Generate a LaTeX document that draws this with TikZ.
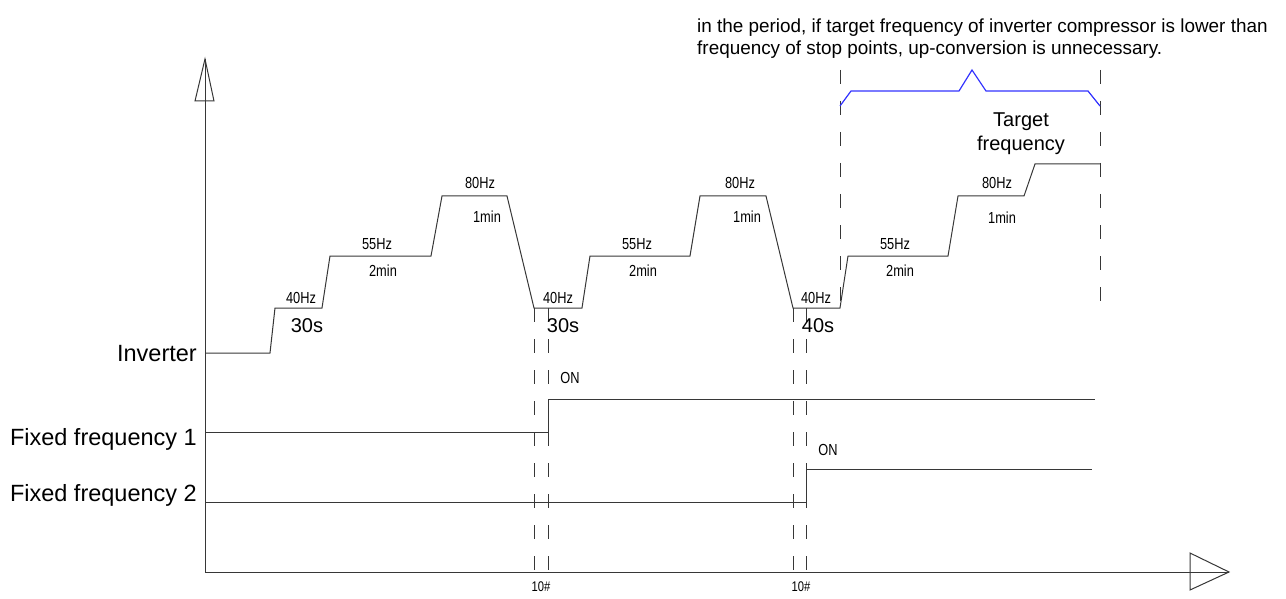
\documentclass[tikz,border=0pt]{standalone}
\usepackage{fontspec}
\setmainfont{Liberation Sans}
\newfontfamily\narrowfont[FakeStretch=0.8]{Liberation Sans}
\definecolor{bracketblue}{RGB}{50,50,255}
\definecolor{linegray}{RGB}{55,55,55}
\begin{document}
\begin{tikzpicture}[x=1pt,y=-1pt,
  wave/.style={line width=1pt, draw=linegray, line join=miter},
  guide/.style={line width=1pt, draw=linegray, dash pattern=on 14pt off 17pt},
  axis/.style={line width=1pt, draw=linegray},
  small/.style={font=\narrowfont\fontsize{16}{18}\selectfont, inner sep=0pt},
  tiny/.style={font=\narrowfont\fontsize{14}{16}\selectfont, inner sep=0pt},
  big/.style={font=\fontsize{23.5}{27}\selectfont, inner sep=0pt},
  dur/.style={font=\fontsize{20}{22}\selectfont, inner sep=0pt},
  note/.style={font=\fontsize{18.9}{22}\selectfont, inner sep=0pt},
  tgt/.style={font=\fontsize{20}{24}\selectfont, inner sep=0pt}]
\useasboundingbox (0,0) rectangle (1286,599);

% axes
\coordinate (O) at (205,572);
\coordinate (Ytip) at (205,59);
\coordinate (Xtip) at (1229,572);
\draw[axis] (O) -- (Ytip);
\draw[axis] (O) -- (Xtip);
\draw[axis] (Ytip) -- (195,101) -- (214,101) -- cycle;
\draw[axis] (Xtip) -- (1190,553) -- (1190,590) -- cycle;

% inverter waveform
\draw[wave] (205,353) -- (270,353) -- (275,308) -- (322,308) -- (330,256) -- (431,256)
  -- (442,196) -- (507,196) -- (534,308) -- (582,308) -- (590,256) -- (690,256)
  -- (700,196) -- (766,196) -- (793,308) -- (840,308) -- (848,256) -- (948,256)
  -- (958,196) -- (1024,196) -- (1035,164) -- (1100,164);

% fixed frequency 1 and 2
\draw[wave] (205,432) -- (548,432) -- (548,399) -- (1095,399);
\draw[wave] (205,502) -- (806,502) -- (806,469) -- (1092,469);

% dashed guides
\draw[guide] (534,308) -- (534,572);
\draw[guide] (548,308) -- (548,572);
\draw[guide] (793,308) -- (793,572);
\draw[guide] (806,308) -- (806,572);
\draw[guide] (840,70) -- (840,310);
\draw[guide] (1100,70) -- (1100,310);

% blue bracket
\draw[line width=1.2pt, bracketblue] (840,106) -- (851,91) -- (959,91) -- (972,70)
  -- (986,91) -- (1088,91) -- (1100,106);

% left labels
\node[big, anchor=base east] (linv) at (197,361) {Inverter};
\node[big, anchor=base east] (lf1) at (197,445) {Fixed frequency 1};
\node[big, anchor=base east] (lf2) at (197,501) {Fixed frequency 2};

% step labels
\node[small] (a40) at (301,298) {40Hz};
\node[small] (b40) at (558,298) {40Hz};
\node[small] (c40) at (816,298) {40Hz};
\node[dur, anchor=base] (a30) at (307,332) {30s};
\node[dur, anchor=base] (b30) at (563,332) {30s};
\node[dur, anchor=base] (c40s) at (818,332) {40s};
\node[small] (a55) at (377,244) {55Hz};
\node[small] (b55) at (637,244) {55Hz};
\node[small] (c55) at (895,244) {55Hz};
\node[small] (a2m) at (383,271) {2min};
\node[small] (b2m) at (643,271) {2min};
\node[small] (c2m) at (900,271) {2min};
\node[small] (a80) at (480,183) {80Hz};
\node[small] (b80) at (740,183) {80Hz};
\node[small] (c80) at (997,183) {80Hz};
\node[small] (a1m) at (487,217) {1min};
\node[small] (b1m) at (747,217) {1min};
\node[small] (c1m) at (1002,218) {1min};
\node[small] (on1) at (570,378) {ON};
\node[small] (on2) at (828,450) {ON};
\node[tiny] (t1) at (541,587) {10\#};
\node[tiny] (t2) at (801,587) {10\#};

% target frequency
\node[tgt, anchor=base] (tg1) at (1021,127) {Target};
\node[tgt, anchor=base] (tg2) at (1021,151) {frequency};

% note
\node[note, anchor=base west] (n1) at (697,33) {in the period, if target frequency of inverter compressor is lower than};
\node[note, anchor=base west] (n2) at (697,55) {frequency of stop points, up-conversion is unnecessary.};
\end{tikzpicture}
\end{document}
